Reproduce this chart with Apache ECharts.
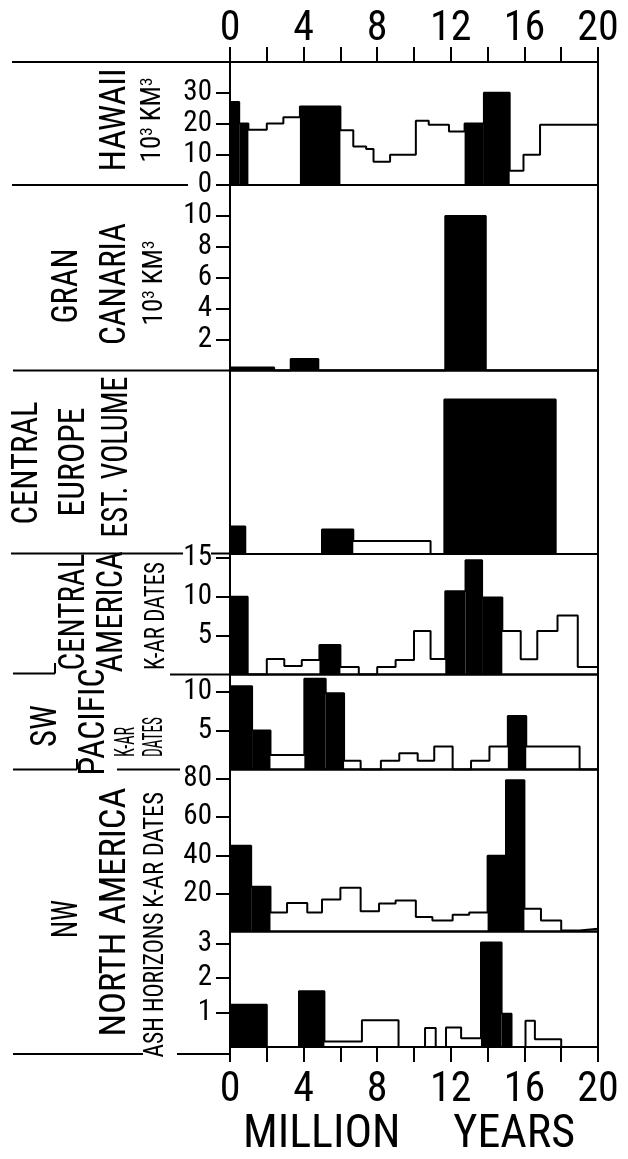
<!DOCTYPE html>
<html>
<head>
<meta charset="utf-8">
<script src="https://cdn.jsdelivr.net/npm/echarts@6/dist/echarts.min.js"></script>
<style>
  html, body { margin: 0; padding: 0; background: #fff; }
  #chart { width: 628px; height: 1159px; }
</style>
</head>
<body>
<div id="chart"></div>
<script>
// Time axis, million years
const yearTicks = [0, 2, 4, 6, 8, 10, 12, 14, 16, 18, 20];
const yearLabels = [0, 4, 8, 12, 16, 20];

// Hawaii: erupted volume, 10^3 km^3 (bin edges in Ma, one value per bin, 1 = solid bar)
const hawaiiEdges = [0, 0.5, 1, 2, 2.9, 3.8, 6, 6.7, 7.4, 7.8, 8.7, 10.1, 10.8, 11.9, 12.75, 13.8, 15.2, 15.95, 16.85, 20];
const hawaiiVolume = [27, 20, 18, 20, 22, 25.5, 17.8, 12.5, 11.7, 7.6, 9.8, 20.9, 19.6, 17.4, 20, 30, 4.6, 9.8, 19.6];
const hawaiiSolid = [1, 1, 0, 0, 0, 1, 0, 0, 0, 0, 0, 0, 0, 0, 1, 1, 0, 0, 0];
const hawaiiTicks = [0, 10, 20, 30];

// Gran Canaria: volume, 10^3 km^3
const granCanariaEdges = [0, 2.4, 3.3, 4.8, 11.7, 13.9, 20];
const granCanariaVolume = [0.2, 0, 0.75, 0, 10, 0];
const granCanariaSolid = [1, 0, 1, 0, 1, 0];
const granCanariaTicks = [2, 4, 6, 8, 10];

// Central Europe: estimated volume (relative units)
const centralEuropeEdges = [0, 0.83, 5.0, 6.7, 10.9, 11.65, 17.7, 20];
const centralEuropeVolume = [1.8, 0, 1.6, 0.85, 0, 10.1, 0];
const centralEuropeSolid = [1, 0, 1, 0, 0, 1, 0];
const centralEuropeTicks = [];

// Central America: number of K-Ar dates
const centralAmericaEdges = [0, 0.96, 2.0, 2.95, 3.9, 4.86, 6.0, 7.0, 8.0, 9.0, 10.0, 10.9, 11.7, 12.8, 13.7, 14.8, 15.8, 16.7, 17.8, 18.9, 20];
const centralAmericaDates = [10, 0, 2, 1.1, 1.85, 3.8, 0.95, 0, 0.95, 1.85, 5.6, 2, 10.7, 14.7, 9.9, 5.6, 1.95, 5.6, 7.6, 0.95];
const centralAmericaSolid = [1, 0, 0, 0, 0, 1, 0, 0, 0, 0, 0, 0, 1, 1, 1, 0, 0, 0, 0, 0];
const centralAmericaTicks = [5, 10, 15];

// SW Pacific: number of K-Ar dates
const swPacificEdges = [0, 1.2, 2.2, 4.04, 5.2, 6.2, 7.1, 8.2, 9.2, 10.2, 11.1, 12.1, 13.1, 14.1, 15.1, 16.1, 19.0, 20];
const swPacificDates = [10.7, 5, 1.87, 11.65, 9.8, 1.13, 0, 1.13, 2.1, 1.13, 2.96, 0, 1.13, 2.96, 6.87, 2.96, 0];
const swPacificSolid = [1, 1, 0, 1, 1, 0, 0, 0, 0, 0, 0, 0, 0, 0, 1, 0, 0];
const swPacificTicks = [5, 10];

// NW North America: number of K-Ar dates
const nwKarEdges = [0, 1.15, 2.2, 3.1, 4.2, 5.0, 6.0, 7.1, 8.1, 9.0, 10.1, 11.0, 12.1, 13.0, 14.0, 15.0, 16.0, 16.9, 18.0, 19.0, 20];
const nwKarDates = [45, 23.5, 10, 15, 10, 16.8, 23, 10.6, 14.7, 16.3, 7.6, 5.8, 8.8, 10, 39.8, 79.3, 11.9, 5.8, 0.5, 1.4];
const nwKarSolid = [1, 1, 0, 0, 0, 0, 0, 0, 0, 0, 0, 0, 0, 0, 1, 1, 0, 0, 0, 0];
const nwKarTicks = [20, 40, 60, 80];

// NW North America: ash horizons
const ashEdges = [0, 2.0, 3.75, 5.13, 7.17, 9.16, 10.6, 11.18, 11.74, 12.56, 13.64, 14.76, 15.3, 16.06, 16.57, 18.0, 20];
const ashHorizons = [1.23, 0, 1.62, 0.16, 0.78, 0, 0.55, 0, 0.57, 0.26, 3.03, 0.97, 0, 0.76, 0.23, 0];
const ashSolid = [1, 0, 1, 0, 0, 0, 0, 0, 0, 0, 1, 1, 0, 0, 0, 0];
const ashTicks = [1, 2, 3];

const FONT = '"Roboto Condensed", "DejaVu Sans Condensed", sans-serif';
const INK = '#000';

// Stacked panels: pixel band of each grid and its vertical scale maximum
const panels = [
  { edges: hawaiiEdges, values: hawaiiVolume, solid: hawaiiSolid, ticks: hawaiiTicks, top: 62, bottom: 185, max: 40 },
  { edges: granCanariaEdges, values: granCanariaVolume, solid: granCanariaSolid, ticks: granCanariaTicks, top: 185, bottom: 370.5, max: 12 },
  { edges: centralEuropeEdges, values: centralEuropeVolume, solid: centralEuropeSolid, ticks: centralEuropeTicks, top: 370.5, bottom: 554, max: 12 },
  { edges: centralAmericaEdges, values: centralAmericaDates, solid: centralAmericaSolid, ticks: centralAmericaTicks, top: 554, bottom: 674.5, max: 15.5 },
  { edges: swPacificEdges, values: swPacificDates, solid: swPacificSolid, ticks: swPacificTicks, top: 674.5, bottom: 769.5, max: 12.2 },
  { edges: nwKarEdges, values: nwKarDates, solid: nwKarSolid, ticks: nwKarTicks, top: 769.5, bottom: 931.5, max: 85 },
  { edges: ashEdges, values: ashHorizons, solid: ashSolid, ticks: ashTicks, top: 931.5, bottom: 1053.5, max: 3.35 }
];

// Outline of a histogram: horizontal run across each bin, vertical jumps between bins
function stepPoints(edges, values) {
  const pts = [];
  values.forEach((v, i) => { pts.push([edges[i], v]); pts.push([edges[i + 1], v]); });
  return pts;
}
function solidBins(edges, values, solid) {
  const out = [];
  values.forEach((v, i) => { if (solid[i]) out.push([edges[i], edges[i + 1], v]); });
  return out;
}
function renderBar(params, api) {
  const p0 = api.coord([api.value(0), api.value(2)]);
  const p1 = api.coord([api.value(1), 0]);
  return { type: 'rect', shape: { x: p0[0], y: p0[1], width: p1[0] - p0[0], height: p1[1] - p0[1] }, style: { fill: INK } };
}

const last = panels.length - 1;
const grid = [], xAxis = [], yAxis = [], series = [];
panels.forEach((p, i) => {
  grid.push({ left: 230, width: 368, top: p.top, height: p.bottom - p.top, show: true, borderColor: INK, borderWidth: 2 });
  const edgeAxis = (i === 0 || i === last);
  xAxis.push({
    gridIndex: i, type: 'value', min: 0, max: 20, interval: 2,
    show: edgeAxis, position: i === 0 ? 'top' : 'bottom',
    axisLine: { show: false, onZero: false }, splitLine: { show: false },
    axisTick: { show: true, length: 15, customValues: yearTicks, lineStyle: { color: INK, width: 2 } },
    axisLabel: {
      customValues: yearLabels, margin: i === 0 ? 12 : 22, fontSize: 42, fontFamily: FONT, color: INK,
      hideOverlap: false, showMinLabel: true, showMaxLabel: true
    },
    name: i === last ? 'MILLION     YEARS' : '',
    nameLocation: 'middle', nameGap: 60,
    nameTextStyle: { fontSize: 46, fontFamily: FONT, color: INK, padding: [0, 10, 0, 0] }
  });
  const hasTicks = p.ticks.length > 0;
  yAxis.push({
    gridIndex: i, type: 'value', min: 0, max: p.max, position: 'left',
    axisLine: { show: false, onZero: false }, splitLine: { show: false },
    axisTick: { show: hasTicks, length: 14, interval: 0, customValues: p.ticks, lineStyle: { color: INK, width: 2 } },
    axisLabel: {
      show: hasTicks, customValues: p.ticks, interval: 0, margin: 18, fontSize: 29, lineHeight: 26,
      fontFamily: FONT, color: INK, hideOverlap: false, showMinLabel: true, showMaxLabel: true
    }
  });
  series.push({
    type: 'custom', xAxisIndex: i, yAxisIndex: i, silent: true, z: 2,
    renderItem: renderBar, encode: { x: [0, 1], y: 2 },
    data: solidBins(p.edges, p.values, p.solid)
  });
  series.push({
    type: 'line', xAxisIndex: i, yAxisIndex: i, silent: true, z: 3,
    data: stepPoints(p.edges, p.values), symbol: 'none',
    lineStyle: { color: INK, width: 2 }
  });
});

// Vertical panel titles, read bottom-to-top, fitted to their column length
const measureCtx = document.createElement('canvas').getContext('2d');
function vtext(text, cx, cy, size, len) {
  measureCtx.font = size + 'px ' + FONT;
  const w = measureCtx.measureText(text).width;
  return {
    type: 'text', x: cx, y: cy, rotation: Math.PI / 2, scaleX: len ? len / w : 1, silent: true,
    style: { text: text, fontSize: size, fontFamily: FONT, fill: INK, align: 'center', verticalAlign: 'middle' }
  };
}
function unitText(cx, cy) {
  return {
    type: 'text', x: cx, y: cy, rotation: Math.PI / 2, silent: true,
    style: {
      text: '{b|10}{s|3}{b| KM}{s|3}', fill: INK, align: 'center', verticalAlign: 'middle',
      rich: {
        b: { fontSize: 27, fontFamily: FONT, lineHeight: 27, verticalAlign: 'bottom' },
        s: { fontSize: 17, fontFamily: FONT, lineHeight: 15, verticalAlign: 'top' }
      }
    }
  };
}
function rule(x1, y1, x2, y2) {
  return { type: 'line', silent: true, shape: { x1: x1, y1: y1, x2: x2, y2: y2 }, style: { stroke: INK, lineWidth: 2 } };
}

const BIG = 37, SMALL = 27;
const graphic = [
  rule(12, 62, 230, 62),
  rule(12, 185, 188, 185),
  rule(13, 370.5, 230, 370.5),
  rule(11, 553.5, 183, 553.5), rule(211, 553.5, 230, 553.5),
  rule(13, 673.5, 55, 673.5), rule(55, 663, 55, 673.5), rule(170, 674.5, 230, 674.5),
  rule(13, 769.5, 77, 769.5), rule(77, 759, 77, 769.5), rule(117, 769.5, 180, 769.5),
  rule(13, 1054, 143, 1054), rule(177, 1054, 230, 1054),

  vtext('HAWAII', 116, 120, BIG, 103),
  unitText(153, 120),
  vtext('GRAN', 68, 286, BIG, 75),
  vtext('CANARIA', 116, 284, BIG, 122),
  unitText(155, 283),
  vtext('CENTRAL', 28, 463, BIG, 123),
  vtext('EUROPE', 75, 462, BIG, 109),
  vtext('EST. VOLUME', 118, 457, BIG, 161),
  vtext('CENTRAL', 75, 612, BIG, 117),
  vtext('AMERICA', 113, 612, BIG, 121),
  vtext('K-AR DATES', 157, 616, SMALL, 108),
  vtext('SW', 47, 726, BIG, 42),
  vtext('PACIFIC', 95, 722, BIG, 107),
  vtext('K-AR', 127, 742, SMALL, 30),
  vtext('DATES', 155, 737, SMALL, 40),
  vtext('NW', 68, 919, BIG, 38),
  vtext('NORTH AMERICA', 116, 912, BIG, 249),
  vtext('K-AR DATES', 156, 850, SMALL, 116),
  vtext('ASH HORIZONS', 156, 985, SMALL, 145)
];

const chart = echarts.init(document.getElementById('chart'), null, { renderer: 'canvas' });
chart.setOption({
  backgroundColor: '#fff',
  animation: false,
  grid: grid, xAxis: xAxis, yAxis: yAxis, series: series, graphic: graphic
});
</script>
</body>
</html>
